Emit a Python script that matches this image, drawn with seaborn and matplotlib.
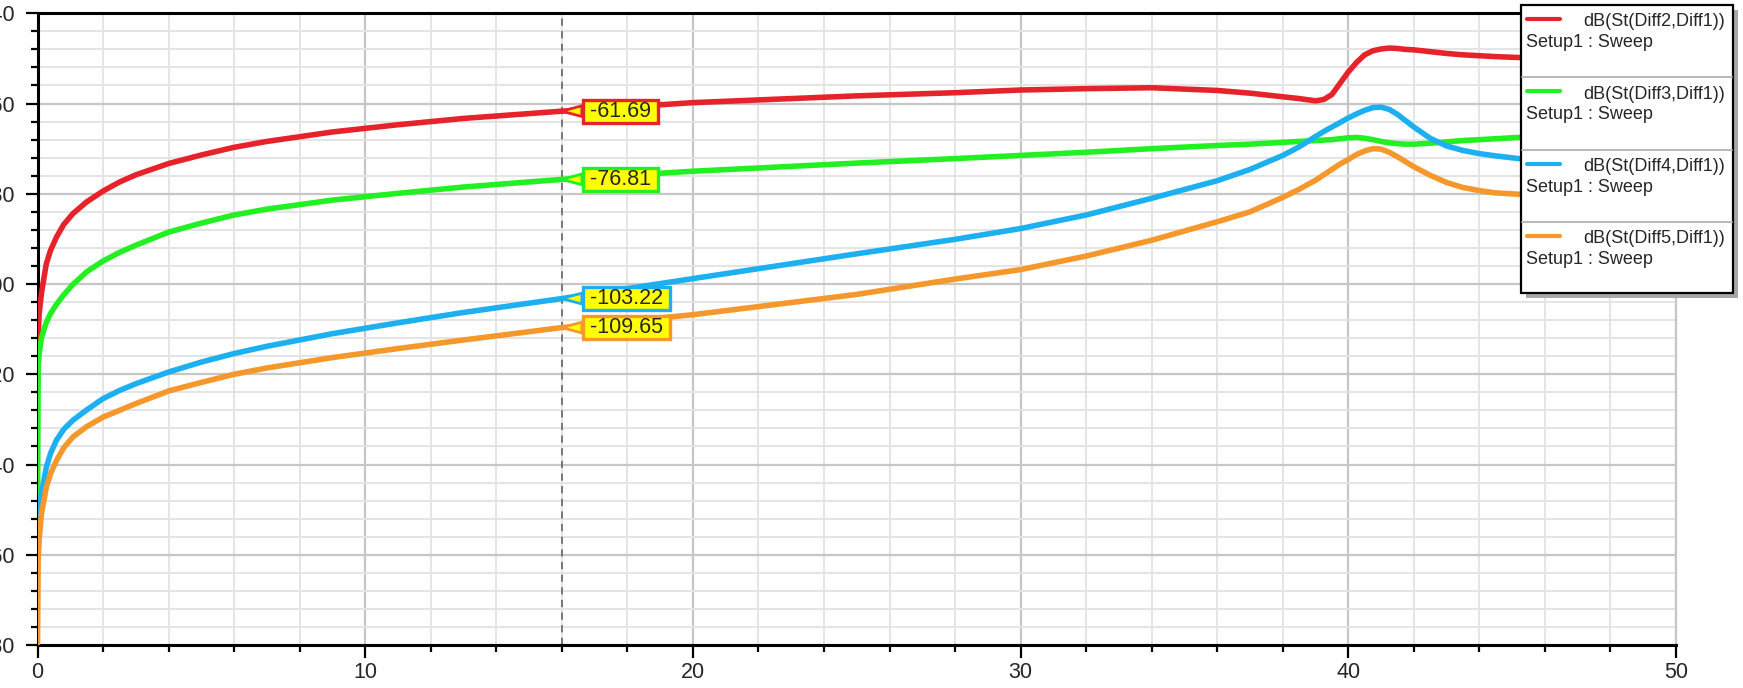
import pandas as pd
import matplotlib.pyplot as plt
import seaborn as sns
from matplotlib.lines import Line2D
from matplotlib.patches import Rectangle
from matplotlib.ticker import MultipleLocator

# frequency axis (GHz) and the four traces
freq = [0, 0.02, 0.05, 0.12, 0.2, 0.27, 0.4, 0.58, 0.8, 1.08, 1.5, 2, 2.5, 3, 4, 5,
        6, 7, 9, 11, 13, 16, 20, 25, 28, 30, 32, 34, 36, 37, 38, 38.5, 39, 39.25,
        39.5, 39.75, 40, 40.25, 40.5, 40.75, 41, 41.25, 41.5, 41.75, 42, 42.5, 43,
        43.5, 44, 44.5, 45.2, 46, 47, 48.5, 50]
diff2 = [-121, -111.7, -106.6, -102.1, -98.5, -95.5, -92.5, -89.6, -86.8, -84.4,
         -81.8, -79.4, -77.4, -75.8, -73.3, -71.4, -69.7, -68.4, -66.3, -64.7,
         -63.3, -61.69, -59.8, -58.3, -57.6, -57.0, -56.7, -56.5, -57.1, -57.7,
         -58.5, -58.9, -59.4, -59.1, -58.0, -55.5, -53.0, -50.9, -49.2, -48.3,
         -47.9, -47.7, -47.8, -48.0, -48.1, -48.5, -48.9, -49.2, -49.4, -49.6,
         -49.8, -50.0, -50.2, -50.5, -50.8]
diff3 = [-151, -118.4, -115.5, -112.0, -110.0, -108.5, -106.5, -104.5, -102.4, -100.1,
         -97.3, -94.9, -93.0, -91.4, -88.5, -86.5, -84.7, -83.4, -81.4, -79.9,
         -78.5, -76.81, -75.0, -73.2, -72.2, -71.5, -70.8, -70.0, -69.3, -69.0,
         -68.6, -68.4, -68.2, -68.1, -68.0, -67.8, -67.6, -67.5, -67.7, -68.0,
         -68.4, -68.7, -68.9, -69.0, -69.0, -68.8, -68.5, -68.2, -68.0, -67.8,
         -67.5, -67.3, -67.0, -66.7, -66.3]
diff4 = [-156, -153.5, -149.4, -146.5, -143.3, -140.6, -137.5, -134.6, -132.2, -130.2,
         -127.9, -125.4, -123.6, -122.1, -119.5, -117.3, -115.4, -113.8, -111.0, -108.6,
         -106.3, -103.22, -98.8, -93.3, -90.1, -87.7, -84.7, -81.0, -77.1, -74.6,
         -71.5, -69.6, -67.3, -66.2, -65.2, -64.2, -63.2, -62.3, -61.5, -60.9,
         -60.8, -61.3, -62.4, -63.8, -65.2, -67.7, -69.4, -70.4, -71.1, -71.6,
         -72.2, -72.7, -73.2, -73.9, -74.5]
diff5 = [-180, -161.3, -156.8, -150.9, -147.8, -145.0, -142.0, -139.1, -136.3, -133.9,
         -131.6, -129.5, -128.0, -126.5, -123.7, -121.8, -120.0, -118.6, -116.3, -114.3,
         -112.4, -109.65, -106.8, -102.3, -98.9, -96.8, -93.8, -90.3, -86.2, -84.0,
         -80.8, -79.0, -77.0, -75.8, -74.6, -73.4, -72.4, -71.3, -70.5, -70.0,
         -70.1, -70.8, -71.8, -72.9, -74.0, -75.9, -77.5, -78.6, -79.3, -79.8,
         -80.1, -80.4, -80.7, -81.1, -81.5]

trace_names = ["dB(St(Diff2,Diff1))", "dB(St(Diff3,Diff1))",
               "dB(St(Diff4,Diff1))", "dB(St(Diff5,Diff1))"]
setup_label = "Setup1 : Sweep"
marker_x = 16
marker_values = [-61.69, -76.81, -103.22, -109.65]
colors = ["#e6232b", "#22f022", "#1cb0f0", "#f5982c"]

W, H = 1743, 688


def fx(px):
    return px / W


def fy(px):
    return 1 - px / H


def build_frame():
    frames = []
    for name, vals in zip(trace_names, [diff2, diff3, diff4, diff5]):
        frames.append(pd.DataFrame({"freq": freq, "db": vals, "trace": name}))
    return pd.concat(frames, ignore_index=True)


def draw_legend(fig):
    left, right, top, bottom = 1521, 1733, 5, 293
    fig.add_artist(Rectangle((fx(left + 5), fy(bottom + 5)), (right - left) / W,
                             (bottom - top) / H, transform=fig.transFigure,
                             fc="#a8a8a8", ec="none", zorder=10))
    fig.add_artist(Rectangle((fx(left), fy(bottom)), (right - left) / W,
                             (bottom - top) / H, transform=fig.transFigure,
                             fc="white", ec="black", lw=1.6, zorder=11))
    step = 72.3
    for i, (name, c) in enumerate(zip(trace_names, colors)):
        t = top + i * step
        fig.add_artist(Line2D([fx(1527), fx(1560)], [fy(t + 14)] * 2, color=c,
                              lw=3, transform=fig.transFigure, zorder=12))
        fig.text(fx(1725), fy(t + 17), name, ha="right", va="center",
                 fontsize=13, zorder=12)
        fig.text(fx(1526), fy(t + 37.5), setup_label, ha="left", va="center",
                 fontsize=13, zorder=12)
        if i < 3:
            fig.add_artist(Line2D([fx(left + 1), fx(right - 1)], [fy(t + step)] * 2,
                                  color="#b8b8b8", lw=1.4,
                                  transform=fig.transFigure, zorder=12))


def main():
    sns.set_style("white")
    plt.rcParams["font.family"] = ["Liberation Sans", "DejaVu Sans"]

    fig = plt.figure(figsize=(W / 100, H / 100), dpi=100)
    ax = fig.add_axes([fx(37.5), fy(645), (1676 - 37.5) / W, (645 - 13.3) / H])

    data = build_frame()
    sns.lineplot(data=data, x="freq", y="db", hue="trace",
                 palette=dict(zip(trace_names, colors)), estimator=None,
                 sort=False, linewidth=4.0, legend=False, ax=ax, zorder=3)

    ax.set_xlim(0, 50)
    ax.set_ylim(-180, -40)
    ax.xaxis.set_major_locator(MultipleLocator(10))
    ax.xaxis.set_minor_locator(MultipleLocator(2))
    ax.yaxis.set_major_locator(MultipleLocator(20))
    ax.yaxis.set_minor_locator(MultipleLocator(4))
    ax.grid(which="major", color="#c6c6c6", lw=1.6, zorder=0)
    ax.grid(which="minor", color="#e4e4e4", lw=1.4, zorder=0)
    ax.set_axisbelow(True)
    ax.set_xlabel("")
    ax.set_ylabel("")

    for side in ["left", "bottom", "top"]:
        ax.spines[side].set_color("black")
        ax.spines[side].set_linewidth(2.2)
    ax.spines["right"].set_color("#c6c6c6")
    ax.spines["right"].set_linewidth(1.6)

    ax.tick_params(which="major", direction="out", length=9, width=1.6,
                   labelsize=15.5, color="black", left=True, bottom=True)
    ax.tick_params(which="minor", direction="out", length=5, width=1.6,
                   color="black", left=True, bottom=True)
    ax.tick_params(axis="y", which="major", pad=7)
    ax.tick_params(axis="x", which="major", pad=3)

    # marker line with the value flags
    ax.axvline(marker_x, color="#6e6e6e", ls=(0, (4, 3)), lw=1.3, zorder=2)
    for val, c in zip(marker_values, colors):
        ax.annotate(f" {val:.2f} ", xy=(marker_x, val), xytext=(16.68, val),
                    ha="left", va="center", fontsize=15.5, zorder=5,
                    bbox=dict(boxstyle="square,pad=0.05", fc="#ffff00", ec=c, lw=2.4),
                    arrowprops=dict(arrowstyle="wedge,tail_width=0.5,shrink_factor=0.5",
                                    fc="#ffff00", ec=c, lw=2,
                                    shrinkA=0, shrinkB=0))

    draw_legend(fig)
    fig.savefig("out.png", dpi=100)


if __name__ == "__main__":
    main()
